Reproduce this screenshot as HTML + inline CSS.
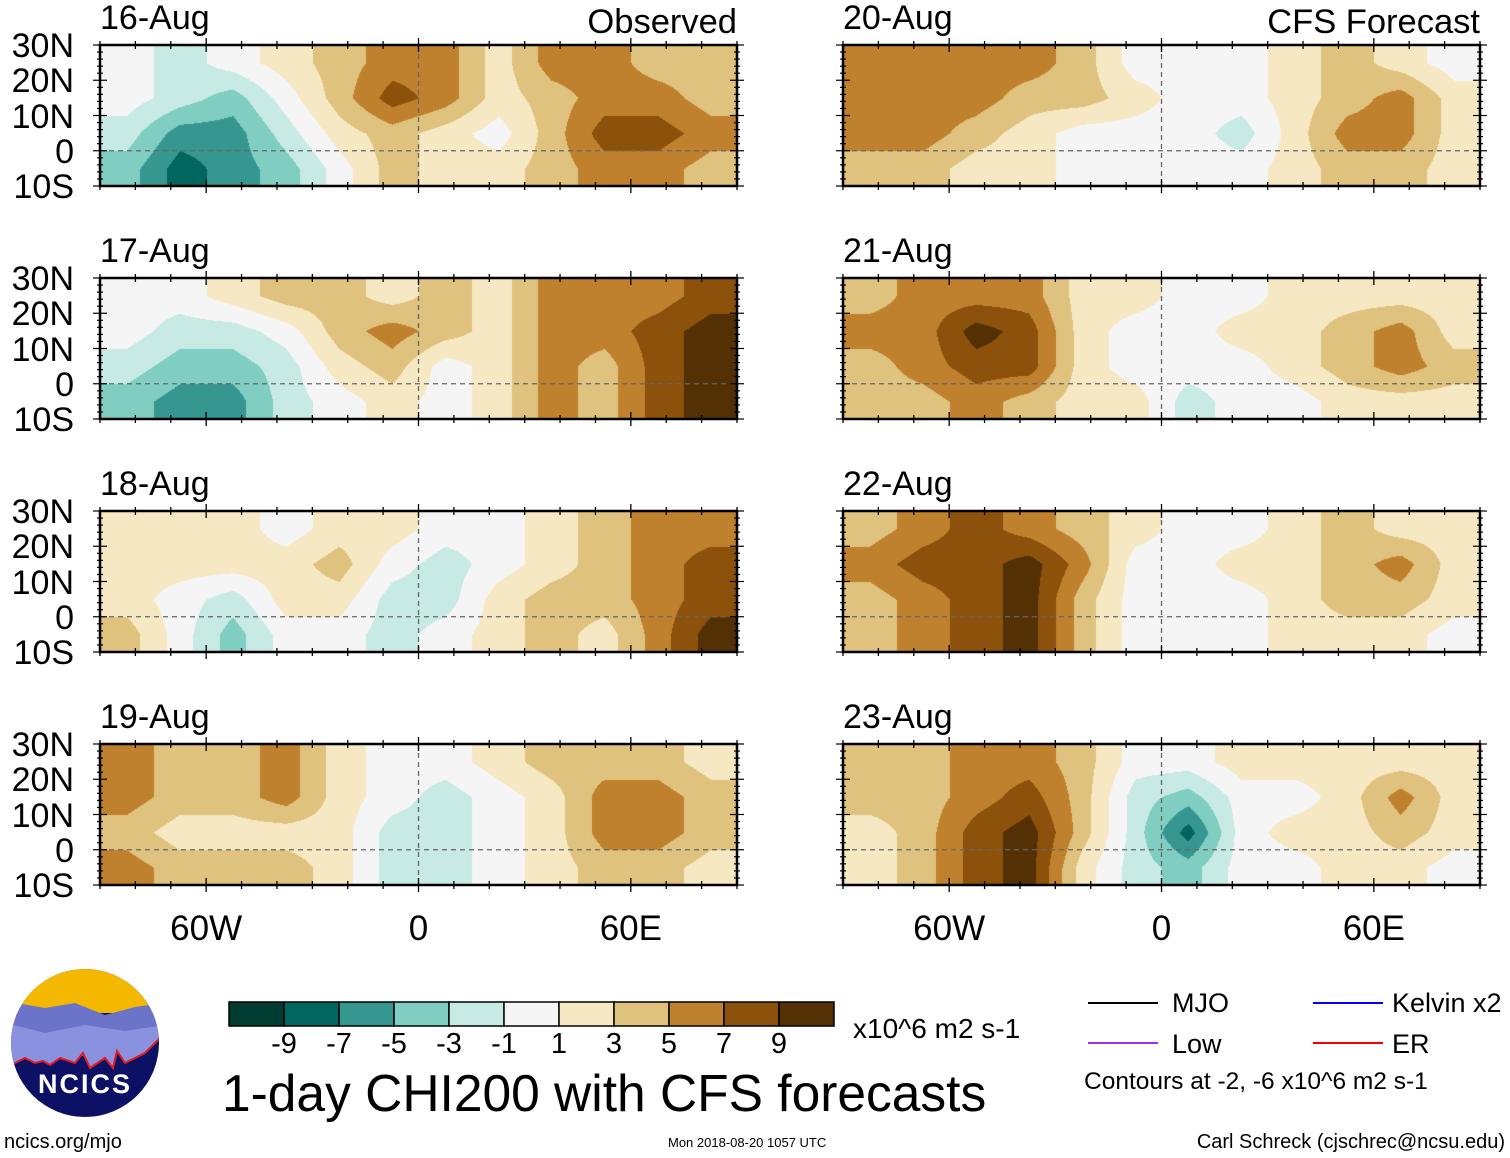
<!DOCTYPE html>
<html><head><meta charset="utf-8">
<style>
body{margin:0;background:#fff;width:1510px;height:1158px;overflow:hidden;position:relative;font-family:"Liberation Sans",Arial,sans-serif;color:#000}
.t{position:absolute;white-space:nowrap;line-height:1}
canvas{position:absolute}
</style></head><body>
<svg id="ov" width="1510" height="1158" style="position:absolute;left:0;top:0;z-index:2"></svg>
<div id="labels"></div>

<svg width="160" height="160" style="position:absolute;left:5px;top:963px" viewBox="0 0 160 160">
<defs><clipPath id="lc"><circle cx="80" cy="80" r="74"/></clipPath></defs>
<g clip-path="url(#lc)">
<rect width="160" height="160" fill="#0d1166"/>
<rect width="160" height="50" fill="#f5b800"/>
<path d="M0 38 L40 45 L70 40 L100 52 L130 44 L160 40 L160 75 L120 80 L90 95 L60 90 L30 80 L0 85Z" fill="#6b74c8"/>
<path d="M0 60 L40 70 L80 62 L120 68 L160 62 L160 70 L155 75 L140 90 L120 100 L112 88 L108 105 L100 95 L85 105 L78 90 L70 100 L55 95 L45 102 L38 98 L30 100 L20 95 L0 105Z" fill="#8a92e0"/>
<path d="M0 105 L20 95 L30 100 L38 98 L45 102 L55 95 L70 100 L78 90 L85 105 L100 95 L108 105 L112 88 L120 100 L140 90 L155 75 L160 70" fill="none" stroke="#e41a1c" stroke-width="2"/>
</g>
<text x="80" y="130" text-anchor="middle" font-family="Liberation Sans" font-weight="bold" font-size="27" fill="#fff" letter-spacing="2">NCICS</text>
</svg>

<div class="t" style="left:4px;top:1132px;font-size:20px">ncics.org/mjo</div>
<div class="t" style="left:668px;top:1136px;font-size:13px">Mon 2018-08-20 1057 UTC</div>
<div class="t" style="right:5px;top:1132px;font-size:20px">Carl Schreck (cjschrec@ncsu.edu)</div>
<div class="t" style="left:222px;top:1068px;font-size:51.5px">1-day CHI200 with CFS forecasts</div>
<div class="t" style="left:853px;top:1015px;font-size:28px">x10^6 m2 s-1</div>
<div class="t" style="left:1084px;top:1070px;font-size:24.5px">Contours at -2, -6 x10^6 m2 s-1</div>
<div class="t" style="left:1172px;top:990px;font-size:27px">MJO</div>
<div class="t" style="left:1392px;top:990px;font-size:27px">Kelvin x2</div>
<div class="t" style="left:1172px;top:1031px;font-size:27px">Low</div>
<div class="t" style="left:1392px;top:1031px;font-size:27px">ER</div>

<script>
// ---- data ----
const dates = ["16-Aug","17-Aug","18-Aug","19-Aug","20-Aug","21-Aug","22-Aug","23-Aug"];
const lonTicks = [-60,0,60];
const lonTickLabels = ["60W","0","60E"];
const latTicks = [30,20,10,0,-10];
const latTickLabels = ["30N","20N","10N","0","10S"];
const levels = [-9,-7,-5,-3,-1,1,3,5,7,9];
const levelColors = ["#003c30","#01665e","#35978f","#80cdc1","#c7eae5","#f5f5f5","#f6e8c3","#dfc27d","#bf812d","#8c510a","#543005"];
const lonCentres = [-82.5,-67.5,-52.5,-37.5,-22.5,-7.5,7.5,22.5,37.5,52.5,67.5,82.5];
const latCentres = [25,15,5,-5];
const chi16 = [[0,-2,0,2,4,6,6,2,6,6,4,4],[0,-2,-4,0,4,8,6,2,4,6,6,4],[-2,-6,-6,-2,2,4,2,0,4,8,8,6],[-4,-8,-6,-4,0,4,2,2,4,6,6,4]];
const chi17 = [[0,0,2,4,4,2,4,2,6,6,6,8],[0,-2,-2,0,4,6,4,2,6,6,8,10],[-2,-4,-4,-2,2,4,0,2,6,4,8,10],[-4,-6,-6,-2,0,2,0,2,6,4,8,10]];
const chi18 = [[2,2,2,0,2,2,0,0,2,4,6,6],[2,2,2,2,4,0,-2,0,2,4,6,8],[2,0,-2,2,2,-2,-2,2,4,4,6,8],[4,0,-4,0,0,-2,0,2,4,2,6,10]];
const chi19 = [[6,4,4,6,2,0,0,2,4,4,4,2],[6,4,4,6,2,0,-2,0,2,6,6,4],[4,2,2,2,2,-2,-2,0,2,6,6,4],[6,4,4,4,2,-2,-2,0,2,4,4,2]];
const chi20 = [[6,6,6,6,4,0,0,0,2,4,2,0],[6,6,6,4,4,2,0,0,2,4,6,2],[6,6,4,2,0,0,0,-2,2,6,6,2],[4,4,2,2,0,0,0,0,2,4,4,2]];
const chi21 = [[4,6,6,6,2,2,0,0,2,2,2,2],[6,6,10,8,2,0,0,2,2,4,6,2],[4,6,8,8,2,0,0,0,2,4,6,4],[4,4,6,4,2,2,-2,0,0,2,2,2]];
const chi22 = [[4,6,8,6,4,2,0,0,2,4,2,2],[6,8,8,10,6,0,0,2,2,4,6,2],[4,6,8,10,4,0,0,0,2,4,4,2],[4,6,8,10,4,0,0,0,2,2,2,0]];
const chi23 = [[4,4,6,6,4,0,0,2,2,2,2,2],[4,4,6,8,4,-2,-4,0,0,2,6,2],[2,4,8,10,4,-2,-8,0,2,2,4,2],[2,4,8,10,2,-2,-4,0,0,2,2,0]];
const fields = [chi16,chi17,chi18,chi19,chi20,chi21,chi22,chi23];

const colX = [100,843], rowY = [45,278,511,744], PW=637, PH=141;
const ov = document.getElementById('ov');
const NS='http://www.w3.org/2000/svg';
function mk(tag,attrs){const e=document.createElementNS(NS,tag);for(const k in attrs)e.setAttribute(k,attrs[k]);ov.appendChild(e);return e;}
function colorOf(v){let i=0;while(i<levels.length&&v>=levels[i])i++;return levelColors[i];}
function hex(c){return [parseInt(c.substr(1,2),16),parseInt(c.substr(3,2),16),parseInt(c.substr(5,2),16)];}
function interp(f,lon,lat){
  let fx=(lon-lonCentres[0])/15, fy=(latCentres[0]-lat)/10;
  fx=Math.max(0,Math.min(lonCentres.length-1,fx)); fy=Math.max(0,Math.min(latCentres.length-1,fy));
  const x0=Math.min(Math.floor(fx),lonCentres.length-2), y0=Math.min(Math.floor(fy),latCentres.length-2);
  const tx=fx-x0, ty=fy-y0;
  const a=f[y0][x0]*(1-tx)+f[y0][x0+1]*tx, b=f[y0+1][x0]*(1-tx)+f[y0+1][x0+1]*tx;
  return a*(1-ty)+b*ty;
}
const labels=document.getElementById('labels');
function txt(name,s,css){const d=document.createElement('div');d.className='t';d.textContent=s;d.style.cssText=css;


labels.appendChild(d);return d;}

fields.forEach((f,p)=>{
  const px=colX[p<4?0:1], py=rowY[p%4];
  const xs=lon=>px+(lon+90)/180*PW, ys=lat=>py+(30-lat)/40*PH;
  const cv=document.createElement('canvas');cv.width=PW;cv.height=PH;cv.style.left=px+'px';cv.style.top=py+'px';
  
  
  document.body.appendChild(cv);
  const ctx=cv.getContext('2d'), img=ctx.createImageData(PW,PH);
  for(let j=0;j<PH;j++)for(let i=0;i<PW;i++){
    const lon=-90+i/PW*180, lat=30-j/PH*40;
    const c=hex(colorOf(interp(f,lon,lat))), k=(j*PW+i)*4;
    img.data[k]=c[0];img.data[k+1]=c[1];img.data[k+2]=c[2];img.data[k+3]=255;
  }
  ctx.putImageData(img,0,0);
  const eq=mk('line',{x1:px,x2:px+PW,y1:ys(0),y2:ys(0),stroke:'#666','stroke-width':1.3,'stroke-dasharray':'5,4'});
  
  
  const pm=mk('line',{x1:xs(0),x2:xs(0),y1:py,y2:py+PH,stroke:'#666','stroke-width':1.3,'stroke-dasharray':'5,4'});
  
  
  const fr=mk('rect',{x:px,y:py,width:PW,height:PH,fill:'none',stroke:'#000','stroke-width':2.5});
  
  
  for(let lon=-90;lon<=90;lon+=10){const L=(lon%60===0)?7:4;
    mk('line',{x1:xs(lon),x2:xs(lon),y1:py-L,y2:py+L,stroke:'#000','stroke-width':1.3});
    mk('line',{x1:xs(lon),x2:xs(lon),y1:py+PH-L,y2:py+PH+L,stroke:'#000','stroke-width':1.3});}
  for(let lat=-10;lat<=30;lat+=2){const L=(lat%10===0)?7:3;
    mk('line',{x1:px-L,x2:px+L,y1:ys(lat),y2:ys(lat),stroke:'#000','stroke-width':1.2});
    mk('line',{x1:px+PW-L,x2:px+PW+L,y1:ys(lat),y2:ys(lat),stroke:'#000','stroke-width':1.2});}
  txt('panel-date-'+dates[p],dates[p],`left:${px}px;top:${py-44}px;font-size:34px`);
  if(p<4){latTicks.forEach((lt,i)=>{txt('lat-label',latTickLabels[i],`right:${1510-74}px;top:${ys(lt)-16}px;font-size:34px;text-align:right`);});}
  if(p%4===3){lonTicks.forEach((ln,i)=>{txt('lon-label',lonTickLabels[i],`left:${xs(ln)-60}px;width:120px;text-align:center;top:${py+PH+26}px;font-size:35px`);});}
});
txt('observed-label','Observed','right:773px;top:5px;font-size:34.5px');
txt('forecast-label','CFS Forecast','right:30px;top:5px;font-size:34.5px');

const cbX=229,cbY=1002,cbW=55,cbH=24;
levelColors.forEach((c,i)=>{const r=mk('rect',{x:cbX+i*cbW,y:cbY,width:cbW,height:cbH,fill:c,stroke:'#000','stroke-width':1.5});
  
  });
levels.forEach((lv,i)=>{txt('colorbar-tick',String(lv),`left:${cbX+(i+1)*cbW-30}px;width:60px;text-align:center;top:1030px;font-size:29px`);});

[[1088,1003,'#000','mjo'],[1313,1003,'#0000ff','kelvin'],[1088,1043,'#9b30ff','low'],[1313,1043,'#ff0000','er']].forEach(a=>{
  const l=mk('line',{x1:a[0],x2:a[0]+70,y1:a[1],y2:a[1],stroke:a[2],'stroke-width':2});
  
  
});
</script>
</body></html>
